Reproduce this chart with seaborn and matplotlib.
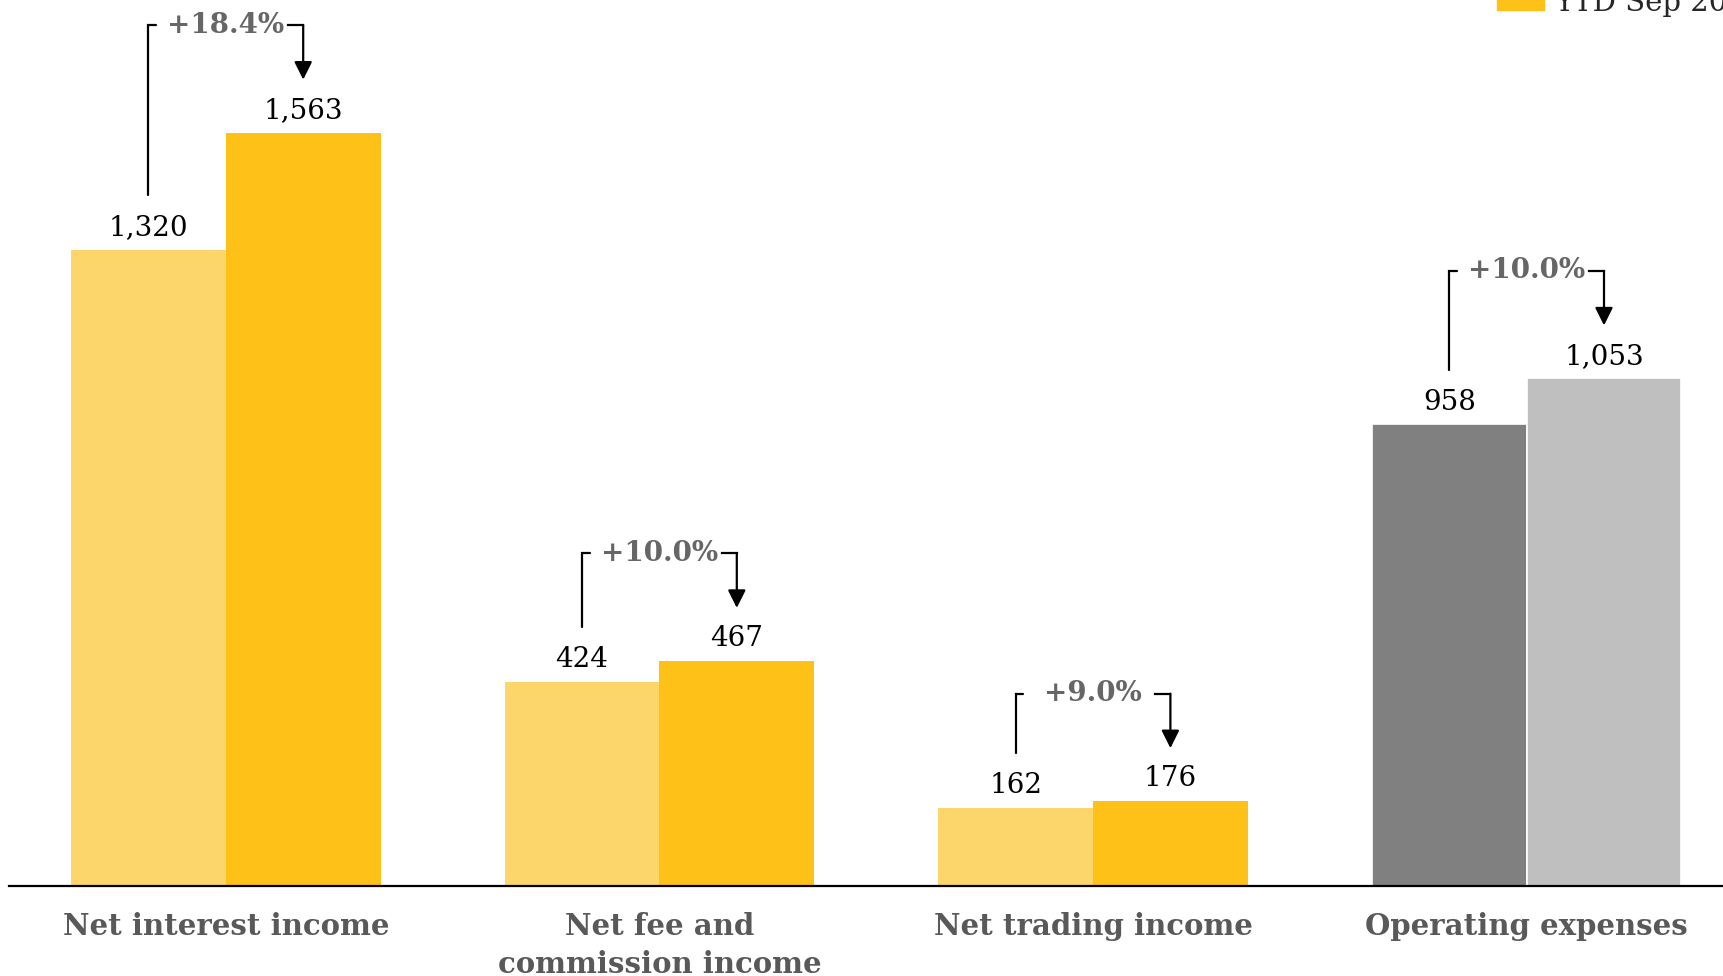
import pandas as pd
import seaborn as sns
import matplotlib.pyplot as plt
from matplotlib.patches import Patch

# chart data
categories = ["Net interest income", "Net fee and\ncommission income",
              "Net trading income", "Operating expenses"]
periods = ["YTD Sep 2019", "YTD Sep 2020"]
values_2019 = [1320, 424, 162, 958]
values_2020 = [1563, 467, 176, 1053]
changes = ["+18.4%", "+10.0%", "+9.0%", "+10.0%"]

income_colors = ["#FDD66B", "#FDC118"]
expense_colors = ["#808080", "#BFBFBF"]

df = pd.DataFrame({
    "category": categories * 2,
    "period": [periods[0]] * len(categories) + [periods[1]] * len(categories),
    "value": values_2019 + values_2020,
})

sns.set_theme(style="white")
plt.rcParams["font.family"] = ["DejaVu Serif"]

W, H = 1724, 976
fig = plt.figure(figsize=(W / 100, H / 100), dpi=100)
ax = fig.add_axes([9 / W, 90 / H, 4 * 433.6 / W, 886 / H])

bar_w = 0.714
sns.barplot(data=df, x="category", y="value", hue="period", palette=income_colors,
            width=bar_w, gap=0, saturation=1, errorbar=None, legend=False, ax=ax,
            linewidth=0)

# operating expenses are drawn in grey
for k, c in enumerate(expense_colors):
    bar = ax.containers[k][3]
    bar.set_facecolor(c)
    bar.set_edgecolor("white")
    bar.set_linewidth(1.2)

ax.set_xlim(-0.5, 3.5)
ax.set_ylim(0, 886 / 0.482)
ax.set_yticks([])
ax.set_xlabel("")
ax.set_ylabel("")
for s in ["left", "top", "right"]:
    ax.spines[s].set_visible(False)
ax.spines["bottom"].set_color("black")
ax.spines["bottom"].set_linewidth(1.6)

ax.tick_params(axis="x", length=0, pad=18.5, labelsize=21, labelcolor="#595959")
for lab in ax.get_xticklabels():
    lab.set_fontweight("bold")
    lab.set_linespacing(1.42)

# value labels and change brackets
off = bar_w / 4
for i in range(len(categories)):
    v1, v2 = values_2019[i], values_2020[i]
    x0, x1 = i - off, i + off
    for x, v in [(x0, v1), (x1, v2)]:
        ax.annotate(f"{v:,}", xy=(x, v), xytext=(0, 16), textcoords="offset points",
                    ha="center", va="center", fontsize=20, color="black")
    top = max(v1, v2) + 223
    ax.plot([x0, x0, x0 + 0.018], [v1 + 113, top, top], color="black", lw=1.6,
            solid_joinstyle="miter")
    ax.plot([x1 - 0.035, x1], [top, top], color="black", lw=1.6,
            solid_capstyle="projecting")
    ax.annotate("", xy=(x1, v2 + 110), xytext=(x1, top),
                arrowprops=dict(arrowstyle="-|>", color="black", lw=1.6,
                                mutation_scale=27, shrinkA=0, shrinkB=0))
    ax.text(i, top, changes[i], ha="center", va="center", fontsize=20,
            fontweight="bold", color="#666666")

handles = [Patch(color=c) for c in income_colors]
ax.legend(handles, periods, loc="lower left", bbox_to_anchor=(1497 / W, 959 / H),
          bbox_transform=fig.transFigure, frameon=False, borderpad=0, borderaxespad=0,
          handlelength=1.6, handleheight=0.65, handletextpad=0.35, fontsize=21,
          labelspacing=0.3)

fig.savefig("out.png", dpi=100)
